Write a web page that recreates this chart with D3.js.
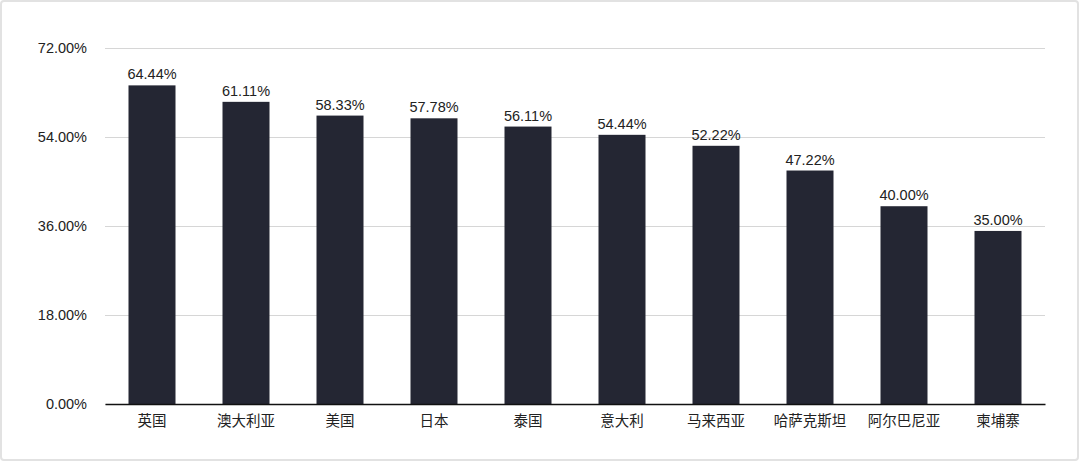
<!DOCTYPE html>
<html><head><meta charset="utf-8">
<script src="https://cdn.jsdelivr.net/npm/d3@7"></script>
<style>
html,body{margin:0;padding:0;background:#fff;}
svg{display:block;}
text{font-family:"Liberation Sans","Noto Sans CJK SC",Arial,sans-serif;}
</style></head><body>
<svg id="c" width="1080" height="462"></svg>
<script>
const categories = ["英国","澳大利亚","美国","日本","泰国","意大利","马来西亚","哈萨克斯坦","阿尔巴尼亚","柬埔寨"];
const values = [64.44, 61.11, 58.33, 57.78, 56.11, 54.44, 52.22, 47.22, 40.00, 35.00];
const yTicks = [0, 18, 36, 54, 72];

const svg = d3.select("#c");
svg.append("rect").attr("x",1).attr("y",1).attr("width",1077).attr("height",459)
  .attr("rx",3).attr("fill","#fff").attr("stroke","#e2e2e2").attr("stroke-width",2);

const pL = 105, pR = 1045, pT = 48, pB = 404;
const x = d3.scaleBand().domain(categories).range([pL, pR]).paddingInner(0.5).paddingOuter(0.25);
const y = d3.scaleLinear().domain([0, 72]).range([pB, pT]);

const yAxis = svg.append("g").attr("transform",`translate(${pL},0)`)
  .call(d3.axisLeft(y).tickValues(yTicks).tickSize(-(pR-pL)).tickFormat(d => d.toFixed(2)+"%"));
yAxis.select(".domain").remove();
yAxis.selectAll(".tick line").attr("stroke","#d6d6d6").attr("stroke-width",1);
yAxis.selectAll(".tick text").attr("x",-18).attr("fill","#222").style("font-size","14.5px");

svg.selectAll("rect.bar").data(values).enter().append("rect").attr("class","bar")
  .attr("x",(d,i)=>x(categories[i])).attr("width",x.bandwidth())
  .attr("y",d=>y(d)).attr("height",d=>pB-y(d)).attr("fill","#242633");

svg.selectAll("text.val").data(values).enter().append("text").attr("class","val")
  .attr("x",(d,i)=>x(categories[i])+x.bandwidth()/2).attr("y",d=>y(d)-6)
  .attr("text-anchor","middle").attr("fill","#222").style("font-size","14.5px")
  .text(d=>d.toFixed(2)+"%");

const xAxis = svg.append("g").attr("transform",`translate(0,${pB})`)
  .call(d3.axisBottom(x).tickSize(0).tickPadding(12));
xAxis.select(".domain").attr("stroke","#111").attr("stroke-width",1.5);
xAxis.selectAll(".tick text").attr("fill","#222").style("font-size","14.5px");
</script>
</body></html>
